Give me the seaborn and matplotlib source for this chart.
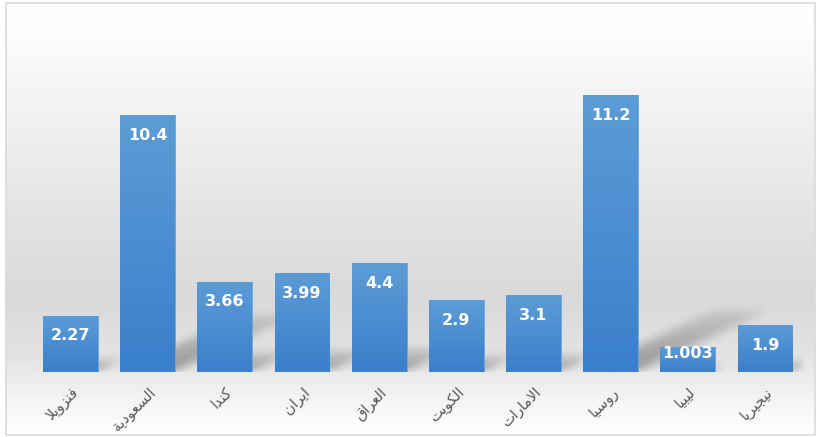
import numpy as np
import pandas as pd
import matplotlib
matplotlib.use("Agg")
import matplotlib.pyplot as plt
import seaborn as sns
from matplotlib.colors import LinearSegmentedColormap
from matplotlib.patches import Rectangle

# ------------------------------ data ------------------------------
countries = ["فنزويلا", "السعودية", "كندا", "ايران", "العراق",
             "الكويت", "الامارات", "روسيا", "ليبيا", "نيجيريا"]
values = [2.27, 10.4, 3.66, 3.99, 4.4, 2.9, 3.1, 11.2, 1.003, 1.9]
value_labels = ["2.27", "10.4", "3.66", "3.99", "4.4", "2.9", "3.1", "11.2", "1.003", "1.9"]

df = pd.DataFrame({"country": countries, "value": values})

# ------------------------------ arabic shaping ------------------------------
# matplotlib has no text shaping, so map letters to presentation forms by hand
# (isolated, final, initial, medial)
FORMS = {
    "ا": ("\uFE8D", "\uFE8E", None, None),
    "ب": ("\uFE8F", "\uFE90", "\uFE91", "\uFE92"),
    "ة": ("\uFE93", "\uFE94", None, None),
    "ت": ("\uFE95", "\uFE96", "\uFE97", "\uFE98"),
    "ج": ("\uFE9D", "\uFE9E", "\uFE9F", "\uFEA0"),
    "د": ("\uFEA9", "\uFEAA", None, None),
    "ر": ("\uFEAD", "\uFEAE", None, None),
    "ز": ("\uFEAF", "\uFEB0", None, None),
    "س": ("\uFEB1", "\uFEB2", "\uFEB3", "\uFEB4"),
    "ع": ("\uFEC9", "\uFECA", "\uFECB", "\uFECC"),
    "ف": ("\uFED1", "\uFED2", "\uFED3", "\uFED4"),
    "ق": ("\uFED5", "\uFED6", "\uFED7", "\uFED8"),
    "ك": ("\uFED9", "\uFEDA", "\uFEDB", "\uFEDC"),
    "ل": ("\uFEDD", "\uFEDE", "\uFEDF", "\uFEE0"),
    "م": ("\uFEE1", "\uFEE2", "\uFEE3", "\uFEE4"),
    "ن": ("\uFEE5", "\uFEE6", "\uFEE7", "\uFEE8"),
    "و": ("\uFEED", "\uFEEE", None, None),
    "ي": ("\uFEF1", "\uFEF2", "\uFEF3", "\uFEF4"),
}


def joins_forward(c):
    return c in FORMS and FORMS[c][2] is not None


def shape_arabic(word):
    out = []
    i = 0
    while i < len(word):
        c = word[i]
        prev = word[i - 1] if i > 0 else None
        nxt = word[i + 1] if i + 1 < len(word) else None
        link_prev = prev is not None and joins_forward(prev)
        if c == "ل" and nxt == "ا":
            out.append("\uFEFC" if link_prev else "\uFEFB")
            i += 2
            continue
        link_next = nxt is not None and nxt in FORMS and joins_forward(c)
        if link_prev and link_next:
            out.append(FORMS[c][3])
        elif link_prev:
            out.append(FORMS[c][1])
        elif link_next:
            out.append(FORMS[c][2])
        else:
            out.append(FORMS[c][0])
        i += 1
    return "".join(reversed(out))


# ------------------------------ figure ------------------------------
sns.set_style("white")
plt.rcParams["font.family"] = ["DejaVu Sans"]

fig = plt.figure(figsize=(8.18, 4.37), dpi=100)
W, H = 818, 437

# chart area background gradient (white -> gray -> white)
bg_cmap = LinearSegmentedColormap.from_list(
    "bg", [(0.0, "#ffffff"), (0.08, "#fcfcfc"), (0.4, "#e9e9e9"), (0.68, "#d9d9d9"),
           (0.82, "#e3e3e3"), (0.93, "#f6f6f6"), (1.0, "#ffffff")])
bg = fig.add_axes([6 / W, 2 / H, 809 / W, 432 / H], zorder=0)
bg.imshow(np.linspace(0, 1, 256).reshape(-1, 1), aspect="auto", cmap=bg_cmap,
          extent=[0, 1, 0, 1], origin="upper")
bg.axis("off")

fig.patches.append(Rectangle((6 / W, 2 / H), 809 / W, 432 / H, transform=fig.transFigure,
                             fill=False, edgecolor="#d9d9d9", linewidth=1.2, zorder=10))

ax = fig.add_axes([31.9 / W, (H - 372) / H, 771.7 / W, 296.4 / H], zorder=1)
ax.patch.set_alpha(0)

sns.barplot(data=df, x="country", y="value", color="#4a8fd2", saturation=1,
            width=0.71, ax=ax, zorder=3)

# perspective shadow behind the bars (skewed up-right, blurred)
nx, ny = 772, 80
xs = np.linspace(-0.5, 9.5, nx)
ys = np.linspace(0, 3.2, ny)
X, Y = np.meshgrid(xs, ys)
shadow = np.zeros_like(X)
for bar in ax.patches:
    x0, w, h = bar.get_x(), bar.get_width(), bar.get_height()
    sh = 0.22 * h
    shift = 0.684 * Y
    inside = (Y <= sh) & (X >= x0 + shift) & (X <= x0 + w + shift)
    shadow = np.maximum(shadow, inside * (1 - 0.7 * Y / sh))


def box_blur(a, r):
    k = np.ones(2 * r + 1) / (2 * r + 1)
    a = np.apply_along_axis(lambda m: np.convolve(m, k, mode="same"), 0, a)
    a = np.apply_along_axis(lambda m: np.convolve(m, k, mode="same"), 1, a)
    return a


shadow = box_blur(box_blur(shadow, 5), 4)
rgba = np.zeros((ny, nx, 4))
rgba[..., 3] = shadow * 0.34
ax.imshow(rgba, extent=[-0.5, 9.5, 0, 3.2], origin="lower", aspect="auto", zorder=1)

# gradient fill for each bar
bar_cmap = LinearSegmentedColormap.from_list("bar", ["#3a7fcb", "#5c9cd6"])
grad = np.linspace(0, 1, 128).reshape(-1, 1)
for bar in ax.patches:
    x0, w, h = bar.get_x(), bar.get_width(), bar.get_height()
    bar.set_edgecolor("#6aa6dc")
    bar.set_linewidth(0.6)
    im = ax.imshow(grad, extent=[x0, x0 + w, 0, h], origin="lower", aspect="auto",
                   cmap=bar_cmap, zorder=3.5)
    im.set_clip_path(bar)

# data labels inside the bar tops
for i, (v, lab) in enumerate(zip(values, value_labels)):
    ax.text(i, max(v - 0.81, 0.73), lab, ha="center", va="center", color="white",
            fontsize=11.5, fontweight="bold", zorder=5)

ax.set_xlim(-0.5, 9.5)
ax.set_ylim(0, 12)
ax.set_xticks(range(len(countries)))
ax.set_xticklabels([shape_arabic(c) for c in countries], rotation=45, ha="right",
                   va="top", rotation_mode="anchor", fontsize=10.5, color="#595959")
ax.tick_params(axis="x", length=0, pad=9)
ax.set_yticks([])
ax.set_xlabel("")
ax.set_ylabel("")
sns.despine(ax=ax, left=True, bottom=True)

fig.savefig("out.png", dpi=100)
